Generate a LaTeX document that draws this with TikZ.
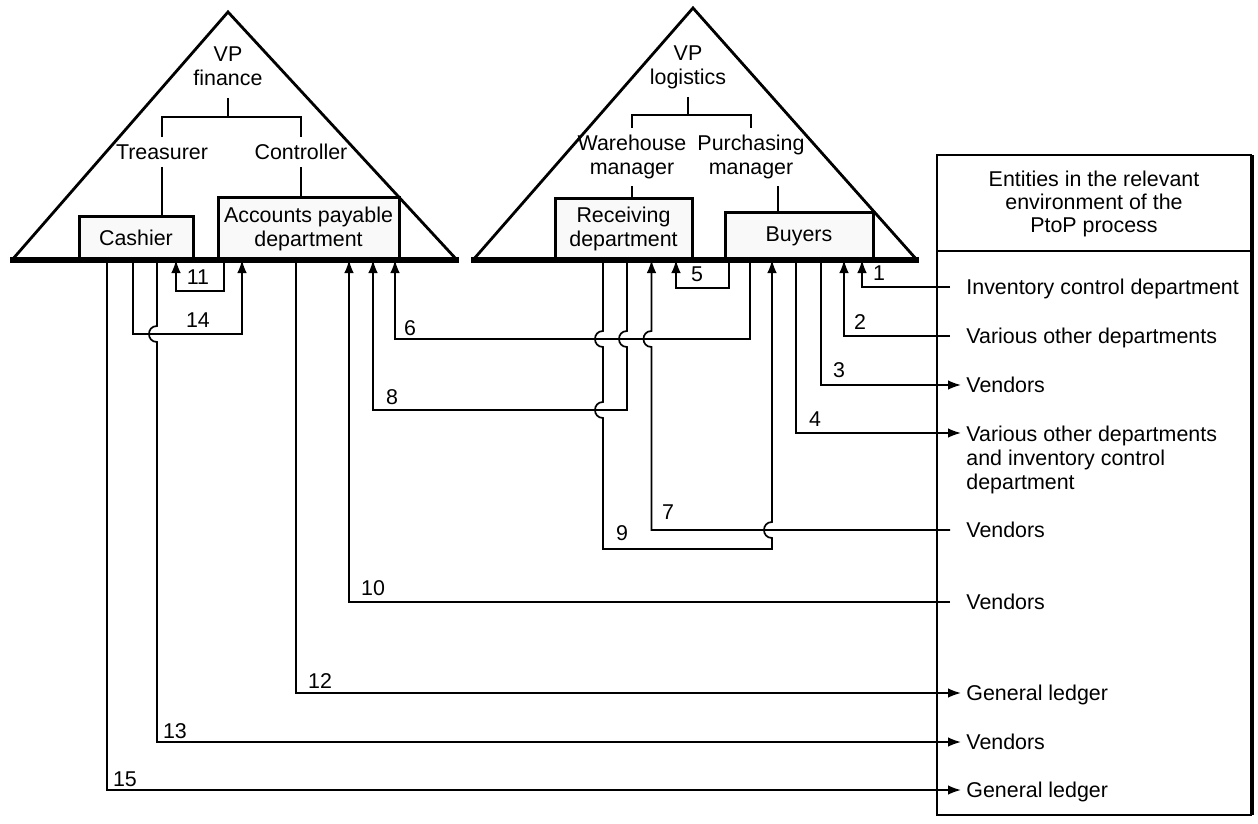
\documentclass[tikz,border=0pt]{standalone}
\usepackage{fontspec}
\setmainfont{Liberation Sans}
\usetikzlibrary{calc,arrows.meta}
\begin{document}
\begin{tikzpicture}[x=0.5pt,y=-0.5pt,
  lbl/.style={font=\fontsize{10.7pt}{12pt}\selectfont, inner sep=0pt},
  org/.style={lbl, align=center, inner sep=3.5pt},
  box/.style={lbl, draw, line width=1.5pt, fill=gray!5, align=center, outer sep=0pt},
  num/.style={lbl},
  ent/.style={lbl, anchor=west, text height=7.7pt, text depth=0pt},
  tri/.style={line width=1.4pt, line join=miter},
  basel/.style={line width=2.6pt},
  orgline/.style={line width=0.65pt},
  flow/.style={line width=0.85pt},
  arr/.style={flow, -{Latex[length=6.5pt,width=4.8pt]}},
  panel/.style={line width=0.8pt}
]
\useasboundingbox (0,0) rectangle (1258,824);

% ---------- left triangle (finance) ----------
\draw[tri] (12,260) -- (228,12) -- (457,260);
\node[org, inner ysep=6pt] (vpf) at (228,66) {VP\\finance};
\node[org] (treas) at (162,152) {Treasurer};
\node[org] (contr) at (301,152) {Controller};
\node[box, minimum width=57pt, minimum height=22pt] (cash) at (136,238) {Cashier};
\node[box, minimum width=90.5pt, minimum height=31.5pt] (ap) at (308.5,228.5) {Accounts payable\\department};
\draw[basel] (10,260) -- (459,260);
\coordinate (fj) at (228,117);
\draw[orgline] (vpf.south) -- (fj);
\draw[orgline] (treas.north) -- (treas.north |- fj) -- (contr.north |- fj) -- (contr.north);
\draw[orgline] (treas.south) -- (treas.south |- cash.north);
\draw[orgline] (contr.south) -- (contr.south |- ap.north);

% ---------- right triangle (logistics) ----------
\draw[tri] (473,260) -- (693,8) -- (917,260);
\node[org, inner ysep=4pt] (vpl) at (688,67) {VP\\logistics};
\node[org] (wh) at (632,157) {Warehouse\\manager};
\node[org] (pm) at (751,157) {Purchasing\\manager};
\node[box, minimum width=68.5pt, minimum height=31pt] (recv) at (623.5,229) {Receiving\\department};
\node[box, minimum width=74pt, minimum height=24pt] (buy) at (799,236) {Buyers};
\draw[basel] (471,260) -- (919,260);
\coordinate (lj) at (688,115);
\draw[orgline] (vpl.south) -- (lj);
\draw[orgline] (wh.north) -- (wh.north |- lj) -- (pm.north |- lj) -- (pm.north);
\draw[orgline] (wh.south) -- (wh.south |- recv.north);
\coordinate (pmx) at ([xshift=13.5pt]pm.south);
\draw[orgline] (pmx) -- (pmx |- buy.north);

% ---------- environment panel ----------
\draw[panel] (1252,155) -- (937,155) -- (937,815) -- (1252,815);
\draw[line width=1.6pt] (1252,155) -- (1252,815);
\draw[panel] (937,251) -- (1252,251);
\node[lbl, align=center, font=\fontsize{10.7pt}{11.3pt}\selectfont] (hd) at (1094,204) {Entities in the relevant\\environment of the\\PtoP process};

\node[ent] (e1) at (966,287) {Inventory control department};
\node[ent] (e2) at (966,336) {Various other departments};
\node[ent] (e3) at (966,385) {Vendors};
\node[lbl, anchor=north west, align=left] (e4) at (966,425.3) {Various other departments\\and inventory control\\department};
\node[ent] (e7) at (966,530) {Vendors};
\node[ent] (e10) at (966,602) {Vendors};
\node[ent] (e12) at (966,693) {General ledger};
\node[ent] (e13) at (966,742) {Vendors};
\node[ent] (e15) at (966,790) {General ledger};

% ---------- flows ----------
% 1
\draw[arr] ([xshift=-8pt]e1.west) -| ($(buy.south)+(63,0)$);
\node[num] (n1) at (879,273) {1};
% 2
\draw[arr] ([xshift=-8pt]e2.west) -| ($(buy.south)+(45,0)$);
\node[num] (n2) at (860,322) {2};
% 3
\draw[arr] ($(buy.south)+(22,0)$) |- ([xshift=-2.5pt]e3.west);
\node[num] (n3) at (839,370) {3};
% 4
\draw[arr] ($(buy.south)+(-3,0)$) |- ([xshift=-2.5pt,yshift=-3.85pt]e4.north west);
\node[num] (n4) at (815,419) {4};
% 5
\draw[arr] ($(buy.south)+(-70,0)$) -- ++(0,28) -| ($(recv.south)+(52.5,0)$);
\node[num] (n5) at (697,274) {5};
% 6
\draw[arr] ($(buy.south)+(-49,0)$) -- ++(0,79) -| ($(ap.south)+(86.5,0)$);
\node[num] (n6) at (410,328) {6};
% 7
\draw[arr] ([xshift=-8pt]e7.west) -- (651.5,530) -- (651.5,347)
  .. controls (640.8,347) and (640.8,331) .. (651.5,331) -- ($(recv.south)+(28,0)$);
\node[num] (n7) at (668,512) {7};
% 8
\draw[arr] ($(recv.south)+(3.5,0)$) -- (627,331)
  .. controls (616.3,331) and (616.3,347) .. (627,347) -- (627,410) -- (373,410)
  -- ($(ap.south)+(64.5,0)$);
\node[num] (n8) at (392,397) {8};
% 9
\draw[arr] ($(recv.south)+(-20.5,0)$) -- (603,331)
  .. controls (592.3,331) and (592.3,347) .. (603,347) -- (603,402)
  .. controls (592.3,402) and (592.3,418) .. (603,418) -- (603,549) -- (772,549)
  -- (772,538) .. controls (761.3,538) and (761.3,522) .. (772,522)
  -- ($(buy.south)+(-27,0)$);
\node[num] (n9) at (622,533) {9};
% 10
\draw[arr] ([xshift=-8pt]e10.west) -| ($(ap.south)+(40.5,0)$);
\node[num] (n10) at (373,588) {10};
% 11
\draw[arr] ($(ap.south)+(-84.5,0)$) -- ++(0,31) -| ($(cash.south)+(40,0)$);
\node[num] (n11) at (198,277) {11};
% 12
\draw[arr] ($(ap.south)+(-12.5,0)$) |- ([xshift=-2.5pt]e12.west);
\node[num] (n12) at (320,681) {12};
% 13
\draw[arr] ($(cash.south)+(21,0)$) -- (157,326)
  .. controls (146.3,326) and (146.3,342) .. (157,342) |- ([xshift=-2.5pt]e13.west);
\node[num] (n13) at (175,731) {13};
% 14
\draw[arr] ($(cash.south)+(-3,0)$) -- ++(0,74) -| ($(ap.south)+(-66.5,0)$);
\node[num] (n14) at (198,320) {14};
% 15
\draw[arr] ($(cash.south)+(-29,0)$) |- ([xshift=-2.5pt]e15.west);
\node[num] (n15) at (125,779) {15};
\end{tikzpicture}
\end{document}
